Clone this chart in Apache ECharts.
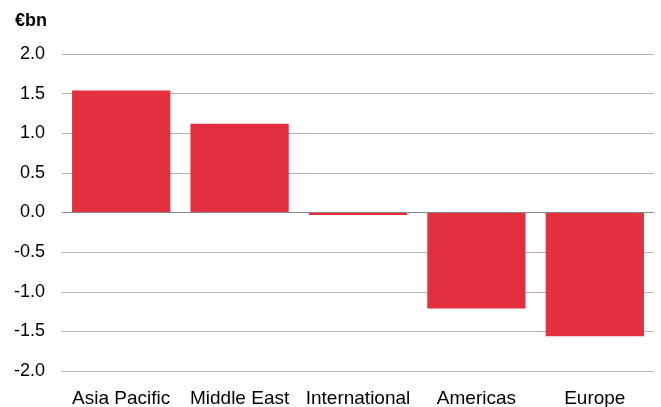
<!DOCTYPE html>
<html>
<head>
<meta charset="utf-8">
<script src="https://cdn.jsdelivr.net/npm/echarts@6/dist/echarts.min.js"></script>
<style>html,body{margin:0;padding:0;background:#fff}#c{width:661px;height:407px}</style>
</head>
<body>
<div id="c"></div>
<script>
const categories = ['Asia Pacific', 'Middle East', 'International', 'Americas', 'Europe'];
const values = [1.54, 1.12, -0.03, -1.21, -1.56];
const yTicks = { min: -2, max: 2, interval: 0.5 };
const unitLabel = '€bn';

const chart = echarts.init(document.getElementById('c'), null, { renderer: 'canvas' });
chart.setOption({
  animation: false,
  backgroundColor: '#fff',
  grid: { left: 62, right: 7, top: 54, bottom: 36, containLabel: false, outerBoundsMode: 'none' },
  graphic: [{ type: 'text', left: 15, top: 12, style: { text: unitLabel, font: 'bold 18px "Liberation Sans", Arial, sans-serif', fill: '#000' } }],
  xAxis: {
    type: 'category', data: categories,
    axisLine: { show: false }, axisTick: { show: false },
    axisLabel: { color: '#000', fontSize: 19, fontFamily: '"Liberation Sans", Arial, sans-serif', margin: 18, interval: 0 }
  },
  yAxis: {
    type: 'value', min: yTicks.min, max: yTicks.max, interval: yTicks.interval,
    axisLine: { show: false }, axisTick: { show: false },
    axisLabel: { color: '#000', fontSize: 18, fontFamily: '"Liberation Sans", Arial, sans-serif', margin: 17, formatter: v => v.toFixed(1) },
    splitLine: { lineStyle: { color: '#b4b4b4', width: 1 } }
  },
  series: [{
    type: 'bar', data: values, barCategoryGap: '17%',
    itemStyle: { color: '#e3303f' },
    markLine: { silent: true, symbol: 'none', label: { show: false }, lineStyle: { color: '#888', width: 1, type: 'solid' }, data: [{ yAxis: 0 }] }
  }]
});
</script>
</body>
</html>
